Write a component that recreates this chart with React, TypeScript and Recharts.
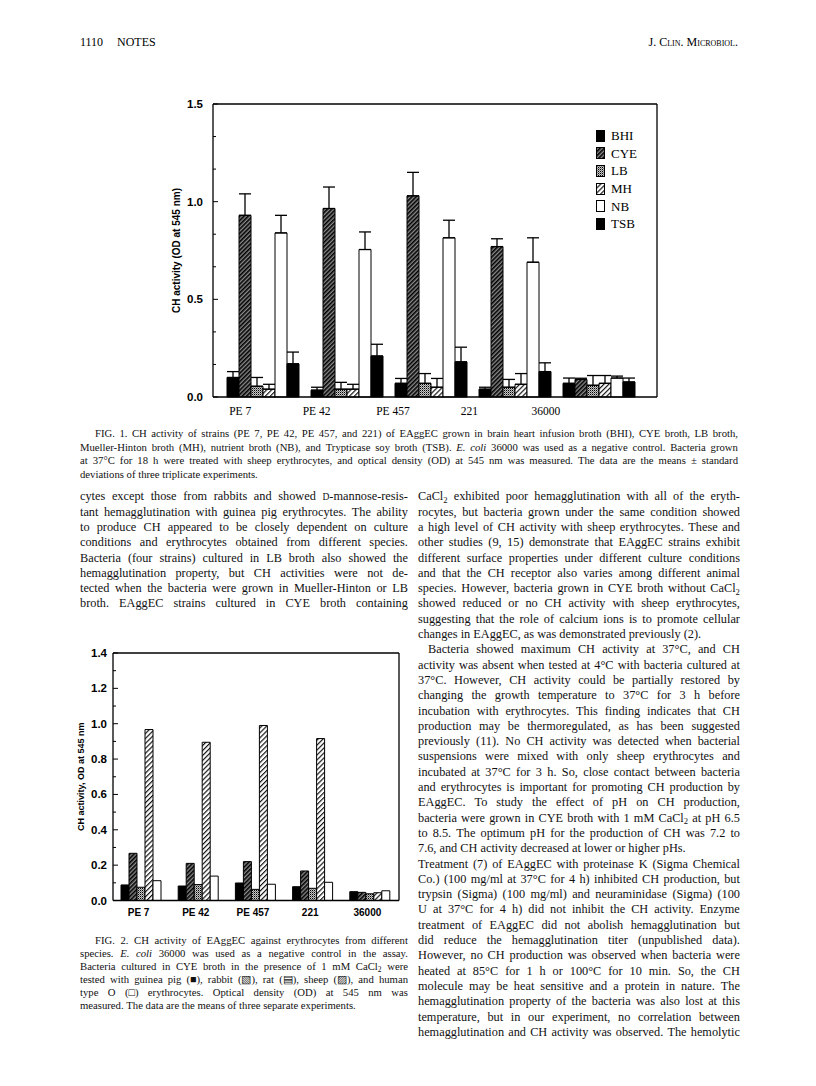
import React from "react";
import { BarChart, Bar, XAxis, YAxis, ErrorBar, Legend } from "recharts";

const strains = ["PE 7", "PE 42", "PE 457", "221", "36000"];

// Fig. 1: CH activity (OD 545 nm) by growth medium, mean and SD
const bhi = [0.1, 0.035, 0.07, 0.04, 0.07];
const bhiSd = [0.03, 0.015, 0.025, 0.01, 0.027];
const cye = [0.93, 0.965, 1.03, 0.77, 0.09];
const cyeSd = [0.11, 0.11, 0.12, 0.04, 0.006];
const lb = [0.055, 0.04, 0.07, 0.05, 0.06];
const lbSd = [0.045, 0.035, 0.05, 0.04, 0.05];
const mh = [0.04, 0.04, 0.05, 0.065, 0.07];
const mhSd = [0.025, 0.025, 0.045, 0.055, 0.04];
const nb = [0.84, 0.755, 0.815, 0.69, 0.097];
const nbSd = [0.09, 0.09, 0.09, 0.125, 0.01];
const tsb = [0.17, 0.21, 0.18, 0.13, 0.077];
const tsbSd = [0.06, 0.06, 0.075, 0.045, 0.02];

const fig1Ticks = [0, 0.1667, 0.3333, 0.5, 0.6667, 0.8333, 1.0, 1.1667, 1.3333, 1.5];

// Fig. 2: CH activity against erythrocytes of different species
const guineaPig = [0.088, 0.082, 0.099, 0.078, 0.05];
const rabbit = [0.267, 0.21, 0.22, 0.167, 0.046];
const rat = [0.075, 0.09, 0.063, 0.069, 0.038];
const sheep = [0.967, 0.895, 0.99, 0.916, 0.044];
const human = [0.112, 0.138, 0.092, 0.103, 0.055];

const fig2Ticks = [0, 0.1, 0.2, 0.3, 0.4, 0.5, 0.6, 0.7, 0.8, 0.9, 1.0, 1.1, 1.2, 1.3, 1.4];

const fig1Series = [
  { key: "BHI", fill: "#000", vals: bhi, sd: bhiSd },
  { key: "CYE", fill: "url(#hatchDark)", vals: cye, sd: cyeSd },
  { key: "LB", fill: "url(#stipple)", vals: lb, sd: lbSd },
  { key: "MH", fill: "url(#hatchLight)", vals: mh, sd: mhSd },
  { key: "NB", fill: "#fff", vals: nb, sd: nbSd },
  { key: "TSB", fill: "#000", vals: tsb, sd: tsbSd },
];

const fig2Series = [
  { key: "guinea pig", fill: "#000", vals: guineaPig },
  { key: "rabbit", fill: "url(#hatchDark)", vals: rabbit },
  { key: "rat", fill: "url(#stipple)", vals: rat },
  { key: "sheep", fill: "url(#hatchLight)", vals: sheep },
  { key: "human", fill: "#fff", vals: human },
];

const fig1Data = strains.map((s, i) => {
  const row: any = { strain: s };
  fig1Series.forEach((m) => {
    row[m.key] = m.vals[i];
    row[m.key + "_sd"] = [0, m.sd[i]];
  });
  return row;
});

const fig2Data = strains.map((s, i) => {
  const row: any = { strain: s };
  fig2Series.forEach((m) => (row[m.key] = m.vals[i]));
  return row;
});

const header = { page: "1110", section: "NOTES", journal: "J. Clin. Microbiol." };

const fig1Caption = [
  ">FIG. 1. CH activity of strains (PE 7, PE 42, PE 457, and 221) of EAggEC grown in brain heart infusion broth (BHI), CYE broth, LB broth,",
  "Mueller-Hinton broth (MH), nutrient broth (NB), and Trypticase soy broth (TSB). *E.* *coli* 36000 was used as a negative control. Bacteria grown",
  "at 37°C for 18 h were treated with sheep erythrocytes, and optical density (OD) at 545 nm was measured. The data are the means ± standard",
  "~deviations of three triplicate experiments.",
];

const fig2Caption = [
  ">FIG. 2. CH activity of EAggEC against erythrocytes from different",
  "species. *E.* *coli* 36000 was used as a negative control in the assay.",
  "Bacteria cultured in CYE broth in the presence of 1 mM CaCl_2 were",
  "tested with guinea pig (■), rabbit (▧), rat (▤), sheep (▨), and human",
  "type O (□) erythrocytes. Optical density (OD) at 545 nm was",
  "~measured. The data are the means of three separate experiments.",
];

const leftColumn = [
  "cytes except those from rabbits and showed ^D-mannose-resis-",
  "tant hemagglutination with guinea pig erythrocytes. The ability",
  "to produce CH appeared to be closely dependent on culture",
  "conditions and erythrocytes obtained from different species.",
  "Bacteria (four strains) cultured in LB broth also showed the",
  "hemagglutination property, but CH activities were not de-",
  "tected when the bacteria were grown in Mueller-Hinton or LB",
  "broth. EAggEC strains cultured in CYE broth containing",
];

const rightColumn = [
  "CaCl_2 exhibited poor hemagglutination with all of the eryth-",
  "rocytes, but bacteria grown under the same condition showed",
  "a high level of CH activity with sheep erythrocytes. These and",
  "other studies (9, 15) demonstrate that EAggEC strains exhibit",
  "different surface properties under different culture conditions",
  "and that the CH receptor also varies among different animal",
  "species. However, bacteria grown in CYE broth without CaCl_2",
  "showed reduced or no CH activity with sheep erythrocytes,",
  "suggesting that the role of calcium ions is to promote cellular",
  "~changes in EAggEC, as was demonstrated previously (2).",
  ">Bacteria showed maximum CH activity at 37°C, and CH",
  "activity was absent when tested at 4°C with bacteria cultured at",
  "37°C. However, CH activity could be partially restored by",
  "changing the growth temperature to 37°C for 3 h before",
  "incubation with erythrocytes. This finding indicates that CH",
  "production may be thermoregulated, as has been suggested",
  "previously (11). No CH activity was detected when bacterial",
  "suspensions were mixed with only sheep erythrocytes and",
  "incubated at 37°C for 3 h. So, close contact between bacteria",
  "and erythrocytes is important for promoting CH production by",
  "EAggEC. To study the effect of pH on CH production,",
  "bacteria were grown in CYE broth with 1 mM CaCl_2 at pH 6.5",
  "to 8.5. The optimum pH for the production of CH was 7.2 to",
  "~7.6, and CH activity decreased at lower or higher pHs.",
  "Treatment (7) of EAggEC with proteinase K (Sigma Chemical",
  "Co.) (100 mg/ml at 37°C for 4 h) inhibited CH production, but",
  "trypsin (Sigma) (100 mg/ml) and neuraminidase (Sigma) (100",
  "U at 37°C for 4 h) did not inhibit the CH activity. Enzyme",
  "treatment of EAggEC did not abolish hemagglutination but",
  "did reduce the hemagglutination titer (unpublished data).",
  "However, no CH production was observed when bacteria were",
  "heated at 85°C for 1 h or 100°C for 10 min. So, the CH",
  "molecule may be heat sensitive and a protein in nature. The",
  "hemagglutination property of the bacteria was also lost at this",
  "temperature, but in our experiment, no correlation between",
  "hemagglutination and CH activity was observed. The hemolytic",
];

const SANS = "'Liberation Sans', Arial, sans-serif";
const SERIF = "'Liberation Serif', 'Times New Roman', serif";

const Word = ({ w }: { w: string }) => {
  if (w.startsWith("*") && w.endsWith("*")) return <i>{w.slice(1, -1)}</i>;
  if (w.includes("_2")) {
    const [a, b] = w.split("_2");
    return (
      <span>
        {a}
        <span style={{ fontSize: "0.7em", position: "relative", top: "0.3em" }}>2</span>
        {b}
      </span>
    );
  }
  if (w.startsWith("^D")) {
    return (
      <span>
        <span style={{ fontSize: "0.78em" }}>D</span>
        {w.slice(2)}
      </span>
    );
  }
  return <span>{w}</span>;
};

const TextBlock = ({ lines, x, y, width, size, lh, indent }: any) => (
  <>
    {lines.map((raw: string, i: number) => {
      const left = raw.startsWith("~");
      const ind = raw.startsWith(">");
      const text = left || ind ? raw.slice(1) : raw;
      const dx = ind ? indent : 0;
      return (
        <div
          key={i}
          style={{
            position: "absolute",
            left: x + dx,
            top: y + i * lh - lh / 2,
            width: width - dx,
            height: lh,
            lineHeight: lh + "px",
            fontSize: size,
            fontFamily: SERIF,
            display: "flex",
            justifyContent: left ? "flex-start" : "space-between",
            gap: left ? "0.25em" : 0,
            whiteSpace: "pre",
            color: "#111",
          }}
        >
          {text.split(" ").map((w, j) => (
            <Word key={j} w={w} />
          ))}
        </div>
      );
    })}
  </>
);

const YTick = (props: any) => {
  const { x, y, payload, gap, major } = props;
  const v = payload.value;
  const isMajor = Math.abs(v / major - Math.round(v / major)) < 1e-3;
  const ax = x + gap;
  return (
    <g>
      <line x1={ax} x2={ax + (isMajor ? 5 : 3)} y1={y} y2={y} stroke="#000" strokeWidth={1} />
      {isMajor && (
        <text x={x} y={y} dy={4} textAnchor="end" fontFamily={SANS} fontWeight="bold" fontSize={11.5} fill="#000">
          {v.toFixed(1)}
        </text>
      )}
    </g>
  );
};

const AxisTitle = ({ viewBox, text, dx, size }: any) => {
  const cx = viewBox.x + dx;
  const cy = viewBox.y + viewBox.height / 2;
  return (
    <text
      x={cx}
      y={cy}
      transform={`rotate(-90, ${cx}, ${cy})`}
      textAnchor="middle"
      dominantBaseline="central"
      fontFamily={SANS}
      fontWeight="bold"
      fontSize={size}
      fill="#000"
    >
      {text}
    </text>
  );
};

const Fig1Legend = () => (
  <div style={{ fontFamily: SERIF, fontSize: 13 }}>
    {fig1Series.map((s) => (
      <div key={s.key} style={{ display: "flex", alignItems: "center", height: 17.6 }}>
        <svg width={15} height={12}>
          <rect x={0.5} y={0.5} width={8} height={11} fill={s.fill} stroke="#000" strokeWidth={1} />
        </svg>
        <span style={{ lineHeight: "13px" }}>{s.key}</span>
      </div>
    ))}
  </div>
);

const Patterns = () => (
  <svg width={0} height={0} style={{ position: "absolute" }}>
    <defs>
      <pattern id="hatchDark" patternUnits="userSpaceOnUse" width={3} height={3} patternTransform="rotate(45)">
        <rect width={3} height={3} fill="#8a8a8a" />
        <line x1={0.8} y1={0} x2={0.8} y2={3} stroke="#000" strokeWidth={1.6} />
      </pattern>
      <pattern id="hatchLight" patternUnits="userSpaceOnUse" width={3.5} height={3.5} patternTransform="rotate(45)">
        <rect width={3.5} height={3.5} fill="#fff" />
        <line x1={0.6} y1={0} x2={0.6} y2={3.5} stroke="#000" strokeWidth={1.1} />
      </pattern>
      <pattern id="stipple" patternUnits="userSpaceOnUse" width={2} height={2}>
        <rect width={2} height={2} fill="#c4c4c4" />
        <rect x={0} y={0} width={1} height={1} fill="#000" />
        <rect x={1} y={1} width={1} height={1} fill="#777" />
      </pattern>
    </defs>
  </svg>
);

export default function App() {
  return (
    <div
      style={{
        position: "absolute",
        left: 0,
        top: 0,
        width: 816,
        height: 1086,
        background: "#fff",
        overflow: "hidden",
        fontFamily: SERIF,
      }}
    >
      <Patterns />

      <div style={{ position: "absolute", left: 80, top: 35, fontSize: 12, fontFamily: SERIF }}>{header.page}</div>
      <div style={{ position: "absolute", left: 117, top: 35, fontSize: 12, fontFamily: SERIF }}>{header.section}</div>
      <div
        style={{
          position: "absolute",
          right: 816 - 738,
          top: 35,
          fontSize: 12,
          fontFamily: SERIF,
          fontVariant: "small-caps",
        }}
      >
        {header.journal}
      </div>

      {/* Fig. 1 */}
      <div style={{ position: "absolute", left: 150, top: 80 }}>
        <BarChart
          width={520}
          height={360}
          data={fig1Data}
          margin={{ top: 23, right: 12, bottom: 12, left: 0 }}
          barCategoryGap={6}
          barGap={0}
        >
          <XAxis dataKey="strain" tick={false} tickLine={false} height={1} stroke="#000" strokeWidth={1.3} padding={{ left: 8, right: 16 }} />
          <XAxis
            xAxisId="lab"
            dataKey="strain"
            axisLine={false}
            tickLine={false}
            tickSize={0}
            tickMargin={0}
            height={30}
            padding={{ left: -11, right: 73 }}
            interval={0}
            tick={(p: any) => (
              <text x={p.x} y={p.y + 17} textAnchor="middle" fontFamily={SERIF} fontSize={11.5} fill="#000">
                {p.payload.value}
              </text>
            )}
          />
          <XAxis xAxisId="top" orientation="top" dataKey="strain" tick={false} tickLine={false} height={1} stroke="#000" strokeWidth={1.3} />
          <YAxis
            type="number"
            domain={[0, 1.5]}
            ticks={fig1Ticks}
            interval={0}
            width={63}
            stroke="#000"
            strokeWidth={1.3}
            tickLine={false}
            tickSize={0}
            tickMargin={10}
            tick={(p: any) => <YTick {...p} gap={10} major={0.5} />}
            label={(p: any) => <AxisTitle viewBox={p.viewBox} text="CH activity (OD at 545 nm)" dx={26} size={10} />}
          />
          <YAxis yAxisId="right" orientation="right" domain={[0, 1]} tick={false} tickLine={false} width={1} stroke="#000" strokeWidth={1.3} />
          <Legend
            layout="vertical"
            align="center"
            verticalAlign="middle"
            wrapperStyle={{ left: 446, top: 47, width: 60 }}
            content={() => <Fig1Legend />}
          />
          {fig1Series.map((s) => (
            <Bar key={s.key} dataKey={s.key} fill={s.fill} stroke="#000" strokeWidth={1} isAnimationActive={false}>
              <ErrorBar
                dataKey={s.key + "_sd"}
                width={6}
                stroke="#000"
                strokeWidth={1.3}
                direction="y"
                isAnimationActive={false}
              />
            </Bar>
          ))}
        </BarChart>
      </div>

      <TextBlock lines={fig1Caption} x={80} y={434} width={658} size={10.7} lh={13.4} indent={15} />

      <TextBlock lines={leftColumn} x={80} y={497} width={328} size={12.3} lh={15.3} indent={10} />
      <TextBlock lines={rightColumn} x={418} y={497} width={322} size={12.3} lh={15.3} indent={10} />

      {/* Fig. 2 */}
      <div style={{ position: "absolute", left: 60, top: 630 }}>
        <BarChart
          width={350}
          height={300}
          data={fig2Data}
          margin={{ top: 22, right: 10, bottom: 4.5, left: 0 }}
          barCategoryGap={8}
          barGap={0}
        >
          <XAxis
            dataKey="strain"
            tickLine={false}
            tickSize={0}
            tickMargin={0}
            height={25}
            stroke="#000"
            strokeWidth={1.3}
            interval={0}
            tick={(p: any) => (
              <text x={p.x - 3} y={p.y + 15} textAnchor="middle" fontFamily={SANS} fontWeight="bold" fontSize={10} fill="#000">
                {p.payload.value}
              </text>
            )}
          />
          <XAxis xAxisId="top" orientation="top" dataKey="strain" tick={false} tickLine={false} height={1} stroke="#000" strokeWidth={1.3} />
          <YAxis
            type="number"
            domain={[0, 1.4]}
            ticks={fig2Ticks}
            interval={0}
            width={53}
            stroke="#000"
            strokeWidth={1.3}
            tickLine={false}
            tickSize={0}
            tickMargin={6}
            tick={(p: any) => <YTick {...p} gap={6} major={0.2} />}
            label={(p: any) => <AxisTitle viewBox={p.viewBox} text="CH activity, OD at 545 nm" dx={21} size={9} />}
          />
          <YAxis yAxisId="right" orientation="right" domain={[0, 1]} tick={false} tickLine={false} width={1} stroke="#000" strokeWidth={1.3} />
          {fig2Series.map((s) => (
            <Bar key={s.key} dataKey={s.key} fill={s.fill} stroke="#000" strokeWidth={1} isAnimationActive={false} />
          ))}
        </BarChart>
      </div>

      <TextBlock lines={fig2Caption} x={80} y={940} width={328} size={10.7} lh={13} indent={15} />
    </div>
  );
}
